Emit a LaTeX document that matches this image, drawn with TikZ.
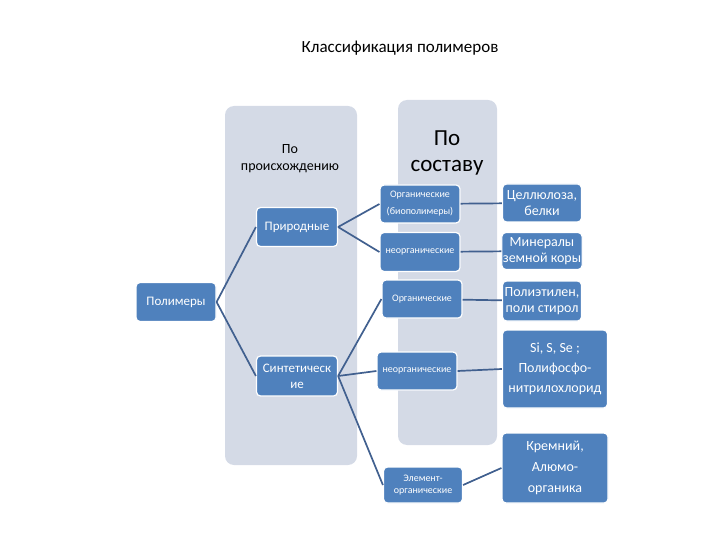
\documentclass[tikz,border=0pt]{standalone}
\usepackage{fontspec}
\setmainfont{Carlito}
\usetikzlibrary{positioning}
\definecolor{panelgray}{HTML}{D4DAE6}
\definecolor{boxblue}{HTML}{4F81BD}
\definecolor{linkblue}{HTML}{41608F}
\tikzset{
	every node/.style = {font=\fontsize{14}{16}\selectfont},
	panel/.style = {fill=panelgray, rounded corners=9pt},
	box/.style = {fill=boxblue, draw=white, line width=1.2pt, rounded corners=4pt,
		text=white, align=center, inner sep=1pt},
	small/.style = {font=\fontsize{10}{17}\selectfont},
	link/.style = {draw=linkblue, line width=1.7pt}
}

\begin{document}
\begin{tikzpicture}[x=1pt, y=-1pt]
		\useasboundingbox (0,0) rectangle (720,540);
		% panels
		\fill[panel] (225,106) rectangle (357,465);
		\fill[panel] (398,100) rectangle (497,445);
		\node[font=\fontsize{17}{19}\selectfont] (title) at (400,48) {Классификация полимеров};
		\node[align=center, font=\fontsize{14}{17}\selectfont] (origin) at (290,159) {По\\происхождению};
		\node[align=center, font=\fontsize{23}{26}\selectfont] (content) at (447,153) {По\\составу};
		% depth 0 and 1
		\node[box, minimum width=80pt, minimum height=39pt, font=\fontsize{13}{14}\selectfont] (pol) at (176,302) {Полимеры};
		\node[box, minimum width=81pt, minimum height=39pt, font=\fontsize{13}{14}\selectfont] (nat) at (297,227) {Природные};
		\node[box, minimum width=81pt, minimum height=40pt, font=\fontsize{13}{16}\selectfont] (syn) at (297,376) {Синтетическ\\ие};
		% depth 2
		\node[box, small, minimum width=80pt, minimum height=38pt] (org1) at (420,204) {Органические\\(биополимеры)};
		\node[box, small, minimum width=80pt, minimum height=39pt] (inorg1) at (420,252) {неорганические};
		\node[box, small, minimum width=80pt, minimum height=38pt] (org2) at (422,299) {Органические};
		\node[box, small, font=\fontsize{10}{12}\selectfont, minimum width=80pt, minimum height=38pt] (inorg2) at (417,371) {неорганические};
		\node[box, small, font=\fontsize{10}{12}\selectfont, minimum width=79pt, minimum height=36pt] (elem) at (423,485) {Элемент-\\органические};
		% depth 3
		\node[box, minimum width=79pt, minimum height=38pt] (cell) at (542,203) {Целлюлоза,\\белки};
		\node[box, minimum width=79pt, minimum height=37pt] (mineral) at (542,251) {Минералы\\земной коры};
		\node[box, minimum width=79pt, minimum height=40pt] (poly) at (542,301) {Полиэтилен,\\поли стирол};
		\node[box, font=\fontsize{14}{20}\selectfont, minimum width=105pt, minimum height=78pt] (si) at (555,369) {Si, S, Se ;\\Полифосфо-\\нитрилохлорид};
		\node[box, font=\fontsize{14}{21}\selectfont, minimum width=106pt, minimum height=70pt] (krem) at (555,468) {Кремний,\\Алюмо-\\органика};
		% connectors
		\foreach \k in {nat, syn}
			\draw[link] (pol.east) -- (\k.west);
		\foreach \k in {org1, inorg1}
			\draw[link] (nat.east) -- (\k.west);
		\foreach \k in {org2, inorg2, elem}
			\draw[link] (syn.east) -- (\k.west);
		\draw[link] (org1) -- (cell);
		\draw[link] (inorg1) -- (mineral);
		\draw[link] (org2) -- (poly);
		\draw[link] (inorg2.east) -- (si.west);
		\draw[link] (elem.east) -- (krem.west);
	\end{tikzpicture}
\end{document}
